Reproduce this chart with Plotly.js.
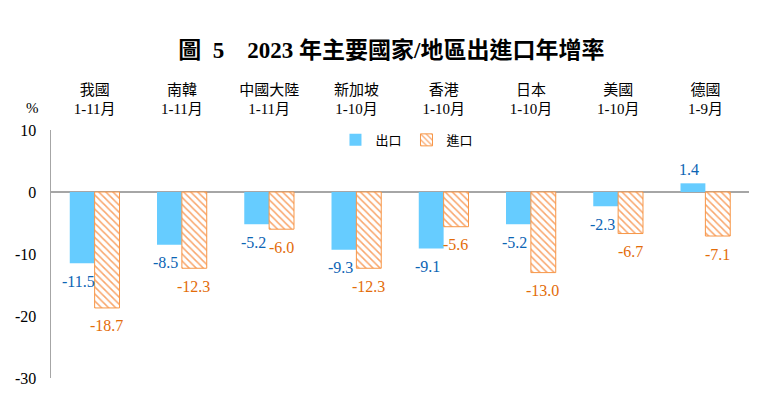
<!DOCTYPE html>
<html><head><meta charset="utf-8">
<script src="https://cdn.plot.ly/plotly-3.0.1.min.js"></script>
<style>body{margin:0;padding:0;background:#fff}#chart{width:763px;height:399px}</style>
</head><body><div id="chart"></div>
<script>
const regions = ["我國","南韓","中國大陸","新加坡","香港","日本","美國","德國"];
const periods = ["1-11月","1-11月","1-11月","1-10月","1-10月","1-10月","1-10月","1-9月"];
const exportGrowth = [-11.5,-8.5,-5.2,-9.3,-9.1,-5.2,-2.3,1.4];
const importGrowth = [-18.7,-12.3,-6.0,-12.3,-5.6,-13.0,-6.7,-7.1];
const yTicks = [10,0,-10,-20,-30];

const FONT = '"Liberation Serif","Times New Roman","Noto Sans CJK TC",serif';
const tickText = regions.map((r,i)=>r+'<br>'+periods[i]);
const BLUE_TXT = '#0C64B4', ORANGE_TXT = '#E36C09';

const traces = [
  {type:'bar', name:'出口', x:regions, y:exportGrowth,
   marker:{color:'#66CCFF', line:{color:'#66CCFF', width:0}}},
  {type:'bar', name:'進口', x:regions, y:importGrowth,
   marker:{color:'#FFFFFF', line:{color:'#F79646', width:1},
     pattern:{shape:'\\', fgcolor:'#F9A66C', bgcolor:'#FFFFFF', size:5, solidity:0.3}}}
];

function labels(vals, xshift, color){
  return vals.map((v,i)=>({
    x: regions[i], y: v, xref:'x', yref:'y', text: v.toFixed(1), showarrow:false,
    xanchor:'center', yanchor:'middle', xshift: xshift, yshift: v < 0 ? -18 : 14,
    font:{family:FONT, size:16, color:color}
  }));
}

const layout = {
  width:763, height:399,
  margin:{l:51, r:14, t:130, b:21},
  paper_bgcolor:'#fff', plot_bgcolor:'#fff',
  font:{family:FONT, size:14, color:'#000'},
  title:{text:'<b>圖\u00A0\u00A05\u00A0\u00A0\u00A0\u00A02023\u00A0年主要國家/地區出進口年增率</b>', x:0.513, xanchor:'center', y:0.875, yanchor:'middle',
    font:{family:FONT, size:23, color:'#000'}},
  barmode:'group', bargap:0.43, bargroupgap:0,
  xaxis:{side:'top', type:'category', tickmode:'array', tickvals:regions, ticktext:tickText,
    showline:false, showgrid:false, zeroline:false, ticks:'', ticklabelstandoff:12,
    tickfont:{family:FONT, size:15, color:'#000'}},
  yaxis:{range:[-30,10], tickmode:'array', tickvals:yTicks, ticktext:yTicks.map(String),
    showline:true, linecolor:'#A6A6A6', linewidth:1.5, showgrid:false,
    zeroline:true, zerolinecolor:'#A6A6A6', zerolinewidth:1.5, ticks:'', ticklabelstandoff:10,
    tickfont:{family:FONT, size:16, color:'#000'}},
  showlegend:true,
  legend:{orientation:'h', x:0.51, xanchor:'center', y:0.96, yanchor:'middle',
    font:{family:FONT, size:13, color:'#000'}, itemwidth:30, tracegroupgap:0, bgcolor:'rgba(0,0,0,0)'},
  annotations:[{text:'%', xref:'paper', yref:'paper', x:-0.026, y:1.09, xanchor:'center', yanchor:'middle',
    showarrow:false, font:{family:FONT, size:15, color:'#000'}}]
    .concat(labels(exportGrowth, -16, BLUE_TXT))
    .concat(labels(importGrowth, 12, ORANGE_TXT))
};
Plotly.newPlot('chart', traces, layout, {displayModeBar:false, staticPlot:true});
</script></body></html>
